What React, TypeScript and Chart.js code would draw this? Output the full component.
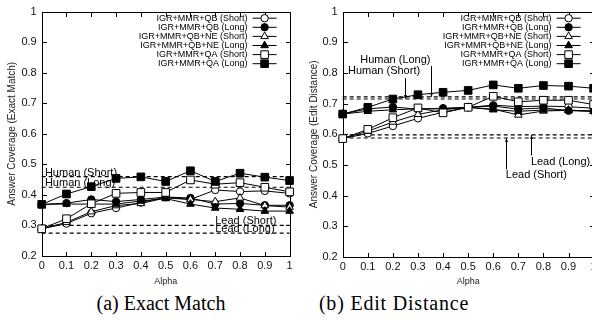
import React, { useEffect, useRef } from 'react';
import { Chart, registerables } from 'chart.js';

Chart.register(...registerables);
Chart.defaults.font.family = '"Liberation Sans", Arial, Helvetica, sans-serif';
Chart.defaults.color = '#000';

// ---------- data ----------
const alpha = [0, 0.1, 0.2, 0.3, 0.4, 0.5, 0.6, 0.7, 0.8, 0.9, 1];
const xTickLabels = ['0', '0.1', '0.2', '0.3', '0.4', '0.5', '0.6', '0.7', '0.8', '0.9', '1'];
const yTickLabels = ['0.2', '0.3', '0.4', '0.5', '0.6', '0.7', '0.8', '0.9', '1'];

const seriesNames = [
  'IGR+MMR+QB (Short)',
  'IGR+MMR+QB (Long)',
  'IGR+MMR+QB+NE (Short)',
  'IGR+MMR+QB+NE (Long)',
  'IGR+MMR+QA (Short)',
  'IGR+MMR+QA (Long)',
];

// (a) Exact Match
const emQBShort = [0.289, 0.306, 0.34, 0.357, 0.375, 0.393, 0.385, 0.416, 0.411, 0.413, 0.405];
const emQBLong = [0.369, 0.373, 0.385, 0.378, 0.385, 0.393, 0.39, 0.37, 0.372, 0.366, 0.366];
const emQBNEShort = [0.289, 0.31, 0.345, 0.365, 0.372, 0.39, 0.385, 0.378, 0.39, 0.365, 0.36];
const emQBNELong = [0.369, 0.37, 0.37, 0.37, 0.38, 0.388, 0.37, 0.357, 0.353, 0.347, 0.347];
const emQAShort = [0.289, 0.322, 0.371, 0.405, 0.408, 0.408, 0.449, 0.435, 0.44, 0.425, 0.41];
const emQALong = [0.369, 0.403, 0.427, 0.454, 0.459, 0.444, 0.479, 0.444, 0.471, 0.458, 0.447];
const emHumanShort = 0.46;
const emHumanLong = 0.425;
const emLeadShort = 0.3;
const emLeadLong = 0.275;

// (b) Edit Distance
const edQBShort = [0.586, 0.603, 0.627, 0.652, 0.672, 0.688, 0.695, 0.69, 0.692, 0.69, 0.685];
const edQBLong = [0.666, 0.683, 0.689, 0.682, 0.685, 0.688, 0.692, 0.682, 0.686, 0.677, 0.676];
const edQBNEShort = [0.586, 0.61, 0.64, 0.665, 0.68, 0.688, 0.682, 0.663, 0.676, 0.678, 0.675];
const edQBNELong = [0.666, 0.675, 0.68, 0.683, 0.683, 0.688, 0.68, 0.675, 0.679, 0.679, 0.675];
const edQAShort = [0.586, 0.616, 0.654, 0.686, 0.67, 0.688, 0.724, 0.706, 0.711, 0.711, 0.697];
const edQALong = [0.666, 0.688, 0.715, 0.729, 0.737, 0.743, 0.761, 0.75, 0.759, 0.757, 0.75];
const edHumanShort = 0.715;
const edHumanLong = 0.722;
const edLeadShort = 0.588;
const edLeadLong = 0.598;

// ---------- styles ----------
type Marker = { shape: 'circle' | 'triangle' | 'rect'; filled: boolean; r: number };
const markers: Marker[] = [
  { shape: 'circle', filled: false, r: 3.7 },
  { shape: 'circle', filled: true, r: 3.7 },
  { shape: 'triangle', filled: false, r: 4.4 },
  { shape: 'triangle', filled: true, r: 4.4 },
  { shape: 'rect', filled: false, r: 5.4 },
  { shape: 'rect', filled: true, r: 5.4 },
];

function drawMarker(ctx: CanvasRenderingContext2D, m: Marker, x: number, y: number) {
  ctx.beginPath();
  if (m.shape === 'circle') {
    ctx.arc(x, y, m.r, 0, Math.PI * 2);
  } else if (m.shape === 'rect') {
    const s = m.r * Math.SQRT1_2;
    ctx.rect(x - s, y - s, 2 * s, 2 * s);
  } else {
    let rad = 0;
    ctx.moveTo(x + Math.sin(rad) * m.r, y - Math.cos(rad) * m.r);
    rad += (2 * Math.PI) / 3;
    ctx.lineTo(x + Math.sin(rad) * m.r, y - Math.cos(rad) * m.r);
    rad += (2 * Math.PI) / 3;
    ctx.lineTo(x + Math.sin(rad) * m.r, y - Math.cos(rad) * m.r);
    ctx.closePath();
  }
  ctx.fillStyle = m.filled ? '#000' : '#fff';
  ctx.fill();
  ctx.stroke();
}

type Annot = {
  text: string;
  x: number;
  y: number;
  align: CanvasTextAlign;
  arrow?: [number, number, number, number];
};

type Cfg = {
  series: number[][];
  refs: number[];
  yTitle: string;
  yWidth: number;
  xHeight: number;
  padRight: number;
  yTitlePad: number;
  annotations: Annot[];
};

function makePlugin(cfg: Cfg) {
  return {
    id: 'gnuFrame',
    beforeDatasetsDraw(chart: any) {
      const { ctx, chartArea: a, scales } = chart;
      const xs = scales.x;
      const ys = scales.y;
      ctx.save();
      ctx.strokeStyle = '#000';
      ctx.lineWidth = 1;
      const L = Math.round(a.left) + 0.5;
      const R = Math.round(a.right) + 0.5;
      const T = Math.round(a.top) + 0.5;
      const B = Math.round(a.bottom) + 0.5;
      ctx.strokeRect(L, T, R - L, B - T);
      const tl = 4.5;
      ctx.beginPath();
      xs.ticks.forEach((_t: any, i: number) => {
        const px = Math.round(xs.getPixelForTick(i)) + 0.5;
        ctx.moveTo(px, B);
        ctx.lineTo(px, B - tl);
        ctx.moveTo(px, T);
        ctx.lineTo(px, T + tl);
      });
      ys.ticks.forEach((_t: any, i: number) => {
        const py = Math.round(ys.getPixelForTick(i)) + 0.5;
        ctx.moveTo(L, py);
        ctx.lineTo(L + tl, py);
        ctx.moveTo(R, py);
        ctx.lineTo(R - tl, py);
      });
      ctx.stroke();
      ctx.restore();
    },
    afterDatasetsDraw(chart: any) {
      const { ctx, chartArea: a, scales } = chart;
      const xs = scales.x;
      const ys = scales.y;
      ctx.save();
      ctx.strokeStyle = '#000';
      ctx.fillStyle = '#000';
      ctx.lineWidth = 1;
      // legend
      ctx.font = '9px "Liberation Sans", Arial, sans-serif';
      ctx.textBaseline = 'middle';
      seriesNames.forEach((n, i) => {
        const yy = a.top + 6.6 + i * 9.1;
        ctx.fillStyle = '#000';
        ctx.textAlign = 'right';
        ctx.fillText(n, a.right - 42, yy);
        ctx.beginPath();
        ctx.moveTo(a.right - 37, yy);
        ctx.lineTo(a.right - 13, yy);
        ctx.stroke();
        drawMarker(ctx, markers[i], a.right - 25, yy);
      });
      // annotations
      ctx.font = '11px "Liberation Sans", Arial, sans-serif';
      ctx.fillStyle = '#000';
      cfg.annotations.forEach((an) => {
        ctx.textAlign = an.align;
        ctx.fillStyle = '#000';
        ctx.fillText(an.text, xs.getPixelForValue(an.x), ys.getPixelForValue(an.y));
        if (an.arrow) {
          const [x1, y1, x2, y2] = an.arrow;
          const px1 = Math.round(xs.getPixelForValue(x1)) + 0.5;
          const py1 = ys.getPixelForValue(y1);
          const px2 = Math.round(xs.getPixelForValue(x2)) + 0.5;
          const py2 = ys.getPixelForValue(y2);
          ctx.beginPath();
          ctx.moveTo(px1, py1);
          ctx.lineTo(px2, py2);
          ctx.stroke();
          const dir = py2 < py1 ? 1 : -1;
          ctx.beginPath();
          ctx.moveTo(px2, py2);
          ctx.lineTo(px2 - 1.5, py2 + dir * 4);
          ctx.lineTo(px2 + 1.5, py2 + dir * 4);
          ctx.closePath();
          ctx.fill();
        }
      });
      ctx.restore();
    },
  };
}

function buildChart(canvas: HTMLCanvasElement, cfg: Cfg) {
  const datasets: any[] = [];
  cfg.refs.forEach((v) => {
    datasets.push({
      data: [
        { x: 0, y: v },
        { x: 1, y: v },
      ],
      borderColor: '#000',
      borderWidth: 1.2,
      borderDash: [4, 3],
      pointRadius: 0,
      fill: false,
      order: 20,
      clip: false,
    });
  });
  cfg.series.forEach((vals, i) => {
    const m = markers[i];
    datasets.push({
      label: seriesNames[i],
      data: alpha.map((a, j) => ({ x: a, y: vals[j] })),
      borderColor: '#000',
      borderWidth: 1,
      pointStyle: m.shape,
      pointRadius: m.r,
      pointBorderWidth: 1,
      pointBackgroundColor: m.filled ? '#000' : '#fff',
      pointBorderColor: '#000',
      fill: false,
      tension: 0,
      order: 5 - i,
      clip: false,
    });
  });
  return new Chart(canvas, {
    type: 'line',
    data: { datasets },
    options: {
      animation: false,
      responsive: false,
      events: [],
      layout: { padding: { left: 0, top: 9, right: cfg.padRight, bottom: 0 } },
      scales: {
        x: {
          type: 'linear',
          min: 0,
          max: 1,
          ticks: {
            stepSize: 0.1,
            autoSkip: false,
            maxRotation: 0,
            padding: 3,
            font: { size: 11 },
            color: '#111',
            callback: (_v: any, i: number) => xTickLabels[i],
          },
          grid: { display: false, drawTicks: false },
          border: { display: false },
          title: { display: true, text: 'Alpha', font: { size: 9 }, color: '#222', padding: { top: 0, bottom: 3 } },
          afterFit: (s: any) => {
            s.height = cfg.xHeight;
          },
        },
        y: {
          type: 'linear',
          min: 0.2,
          max: 1,
          ticks: {
            stepSize: 0.1,
            padding: 5,
            font: { size: 11 },
            color: '#111',
            callback: (_v: any, i: number) => yTickLabels[i],
          },
          grid: { display: false, drawTicks: false },
          border: { display: false },
          title: { display: true, text: cfg.yTitle, font: { size: 10 }, color: '#222', padding: { top: cfg.yTitlePad, bottom: 0 } },
          afterFit: (s: any) => {
            s.width = cfg.yWidth;
          },
        },
      },
      plugins: { legend: { display: false }, tooltip: { enabled: false } },
    } as any,
    plugins: [makePlugin(cfg) as any],
  });
}

const emCfg: Cfg = {
  series: [emQBShort, emQBLong, emQBNEShort, emQBNELong, emQAShort, emQALong],
  refs: [emHumanShort, emHumanLong, emLeadShort, emLeadLong],
  yTitle: 'Answer Coverage (Exact Match)',
  yWidth: 41.7,
  xHeight: 34,
  padRight: 6,
  yTitlePad: 6,
  annotations: [
    { text: 'Human (Short)', x: 0.013, y: 0.472, align: 'left' },
    { text: 'Human (Long)', x: 0.013, y: 0.438, align: 'left' },
    { text: 'Lead (Short)', x: 0.7, y: 0.314, align: 'left' },
    { text: 'Lead (Long)', x: 0.7, y: 0.288, align: 'left' },
  ],
};

const edCfg: Cfg = {
  series: [edQBShort, edQBLong, edQBNEShort, edQBNELong, edQAShort, edQALong],
  refs: [edHumanShort, edHumanLong, edLeadShort, edLeadLong],
  yTitle: 'Answer Coverage (Edit Distance)',
  yWidth: 42.7,
  xHeight: 33,
  padRight: 6.3,
  yTitlePad: 8,
  annotations: [
    { text: 'Human (Long)', x: 0.35, y: 0.841, align: 'right', arrow: [0.35, 0.823, 0.35, 0.722] },
    { text: 'Human (Short)', x: 0.021, y: 0.805, align: 'left', arrow: [0.25, 0.783, 0.25, 0.715] },
    { text: 'Lead (Long)', x: 0.75, y: 0.509, align: 'left', arrow: [0.75, 0.531, 0.75, 0.598] },
    { text: 'Lead (Short)', x: 0.65, y: 0.466, align: 'left', arrow: [0.65, 0.486, 0.65, 0.588] },
  ],
};

export default function App() {
  const leftRef = useRef<HTMLCanvasElement | null>(null);
  const rightRef = useRef<HTMLCanvasElement | null>(null);

  useEffect(() => {
    const c1 = buildChart(leftRef.current!, emCfg);
    const c2 = buildChart(rightRef.current!, edCfg);
    return () => {
      c1.destroy();
      c2.destroy();
    };
  }, []);

  const captionStyle: React.CSSProperties = {
    position: 'absolute',
    top: 293,
    width: 240,
    textAlign: 'center',
    fontFamily: '"Liberation Serif", "Times New Roman", serif',
    fontSize: 20,
    lineHeight: '20px',
    color: '#000',
    whiteSpace: 'nowrap',
  };

  return (
    <div
      style={{
        position: 'fixed',
        left: 0,
        top: 0,
        width: 592,
        height: 320,
        overflow: 'hidden',
        background: '#fff',
      }}
    >
      <canvas
        ref={leftRef}
        width={296}
        height={290}
        style={{ position: 'absolute', left: 0, top: 0, width: 296, height: 290 }}
      />
      <canvas
        ref={rightRef}
        width={300}
        height={290}
        style={{ position: 'absolute', left: 300, top: 0, width: 300, height: 290 }}
      />
      <div style={{ ...captionStyle, left: 161 - 120 }}>(a) Exact Match</div>
      <div style={{ ...captionStyle, left: 394 - 120, letterSpacing: '0.8px' }}>(b) Edit Distance</div>
    </div>
  );
}
